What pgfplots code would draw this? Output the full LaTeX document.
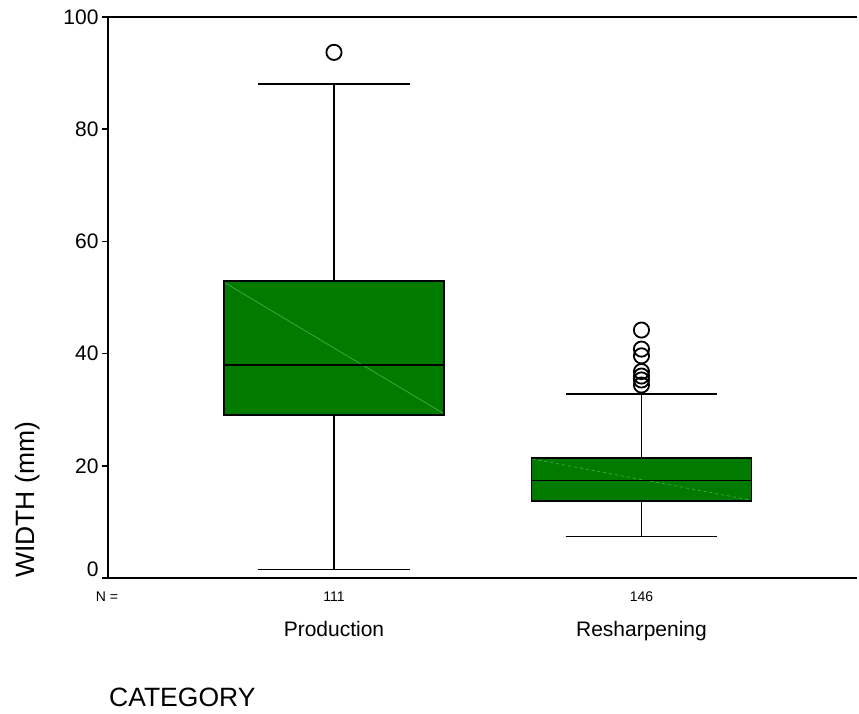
\documentclass[border=0pt]{standalone}
\usepackage{fontspec}
\setmainfont{Liberation Sans}
\usepackage{pgfplots}
\pgfplotsset{compat=1.18}
\definecolor{boxgreen}{RGB}{0,123,0}
\definecolor{diaggreen}{RGB}{80,175,80}
\begin{document}
\begin{tikzpicture}
\path[use as bounding box] (0pt,0pt) rectangle (859pt,713pt);
\begin{axis}[
  at={(108pt,135pt)}, anchor=south west,
  scale only axis, width=749pt, height=561pt,
  xmin=0.265, xmax=2.701, ymin=0, ymax=100,
  axis lines=left,
  axis line style={line width=1.6pt,-},
  xtick=\empty,
  ytick={20,40,60,80,100},
  extra y ticks={0},
  extra y tick style={yticklabel style={yshift=9pt}},
  tick align=outside, major tick length=6pt,
  tick style={line width=1.6pt, black},
  tick label style={font=\fontsize{21}{25}\selectfont},
  /pgf/number format/assume math mode=true,
  clip=false,
]
% Production: whiskers 1.5 / 88.1, quartiles 29.1 / 52.9, median 38.0
\addplot[black, line width=1.6pt] coordinates {(1,52.9) (1,88.1)};
\addplot[black, line width=1.6pt] coordinates {(1,1.5) (1,29.1)};
\addplot[black, line width=1.6pt] coordinates {(0.753,88.1) (1.247,88.1)};
\addplot[black, line width=1.6pt] coordinates {(0.753,1.5) (1.247,1.5)};
\addplot[fill=boxgreen, draw=black, line width=1.6pt] coordinates {(0.6417,29.1) (1.3583,29.1) (1.3583,52.9) (0.6417,52.9)} -- cycle;
\addplot[diaggreen, line width=0.6pt] coordinates {(0.646,52.6) (1.354,29.4)};
\addplot[black, line width=1.6pt] coordinates {(0.6417,38.0) (1.3583,38.0)};
\addplot[only marks, mark=o, mark size=7.6pt, mark options={fill=white, draw=black, line width=1.8pt}] coordinates {(1,93.7)};
% Resharpening: whiskers 7.4 / 32.8, quartiles 13.7 / 21.4, median 17.4
\addplot[black, line width=1.6pt] coordinates {(2,21.4) (2,32.8)};
\addplot[black, line width=1.6pt] coordinates {(2,7.4) (2,13.7)};
\addplot[black, line width=1.6pt] coordinates {(1.753,32.8) (2.247,32.8)};
\addplot[black, line width=1.6pt] coordinates {(1.753,7.4) (2.247,7.4)};
\addplot[fill=boxgreen, draw=black, line width=1.6pt] coordinates {(1.6417,13.7) (2.3583,13.7) (2.3583,21.4) (1.6417,21.4)} -- cycle;
\addplot[diaggreen, line width=0.6pt, dashed] coordinates {(1.646,21.2) (2.354,13.9)};
\addplot[black, line width=1.6pt] coordinates {(1.6417,17.4) (2.3583,17.4)};
\addplot[only marks, mark=o, mark size=7.6pt, mark options={fill=white, draw=black, line width=1.8pt}] coordinates {(2,34.4) (2,35.3) (2,36.0) (2,36.8) (2,39.6) (2,40.8) (2,44.2)};
\draw[line width=1.6pt] (rel axis cs:0,1) -- (rel axis cs:1,1);
\node[font=\fontsize{14}{17}\selectfont, anchor=base] at (axis cs:0.262,-4.2) {N =};
\node[font=\fontsize{14}{17}\selectfont, anchor=base] at (axis cs:1,-4.2) {111};
\node[font=\fontsize{14}{17}\selectfont, anchor=base] at (axis cs:2,-4.2) {146};
\node[font=\fontsize{21}{25}\selectfont, anchor=base] at (axis cs:1,-10.4) {Production};
\node[font=\fontsize{21}{25}\selectfont, anchor=base] at (axis cs:2,-10.4) {Resharpening};
\end{axis}
\node[font=\fontsize{26.5}{30}\selectfont, anchor=base west, inner sep=0pt] at (109pt,6.3pt) {CATEGORY};
\node[font=\fontsize{26.5}{30}\selectfont, anchor=base west, inner sep=0pt, rotate=90] at (35pt,135pt) {WIDTH (mm)};
\end{tikzpicture}
\end{document}
